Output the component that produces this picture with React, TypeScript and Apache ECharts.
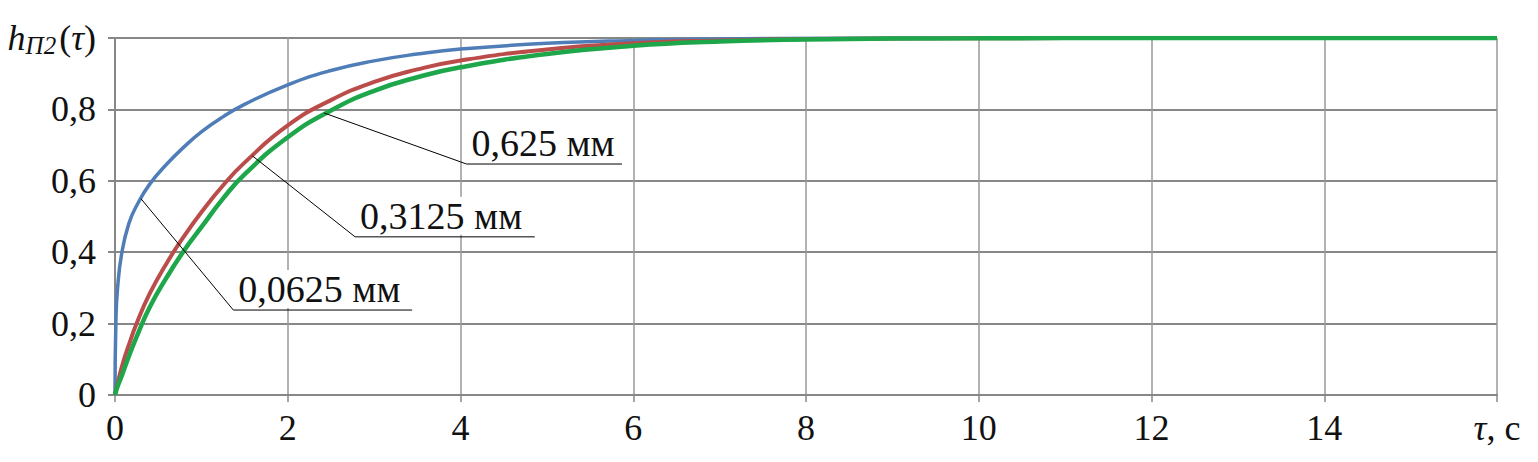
import React, { useEffect, useRef } from "react";
import * as echarts from "echarts";

// time, s
const times = [0, 0.01, 0.03, 0.08, 0.16, 0.25, 0.4, 0.6, 0.8, 1, 1.25, 1.5, 2, 2.5, 3, 3.5, 4, 5, 6, 7, 8, 10, 12, 14, 16];
// h_П2(τ) for layer 0,0625 мм (blue)
const h0625 = [0, 0.2, 0.3, 0.4, 0.48, 0.53, 0.59, 0.647, 0.695, 0.737, 0.779, 0.814, 0.869, 0.909, 0.936, 0.955, 0.969, 0.985, 0.993, 0.997, 0.999, 1, 1, 1, 1];
// h_П2(τ) for layer 0,3125 мм (red)
const h3125 = [0, 0.012, 0.032, 0.08, 0.14, 0.2, 0.283, 0.37, 0.445, 0.512, 0.587, 0.651, 0.755, 0.826, 0.877, 0.912, 0.937, 0.968, 0.985, 0.993, 0.997, 0.999, 1, 1, 1];
// h_П2(τ) for layer 0,625 мм (green)
const h625 = [0, 0.009, 0.024, 0.055, 0.108, 0.163, 0.245, 0.33, 0.405, 0.47, 0.55, 0.618, 0.722, 0.797, 0.852, 0.89, 0.918, 0.955, 0.978, 0.99, 0.996, 0.999, 1, 1, 1];

const xTicks = { min: 0, max: 16, step: 2 };
const yTicks = { min: 0, max: 1, step: 0.2 };

// leader annotations: label, [anchor, elbow, underline end] in data coords
const annLabels = ["0,625 мм", "0,3125 мм", "0,0625 мм"];
const annPoints: number[][][] = [
  [[2.42, 0.79], [4.07, 0.647], [5.87, 0.647]],
  [[1.59, 0.67], [2.78, 0.443], [4.86, 0.443]],
  [[0.3, 0.55], [1.37, 0.238], [3.44, 0.238]],
];

const FONT = "Liberation Serif, Times New Roman, serif";
const GRAY = "#878787";

export default function App() {
  const ref = useRef<HTMLDivElement>(null);
  useEffect(() => {
    if (!ref.current) return;
    const chart = echarts.init(ref.current, null, { renderer: "svg" });
    const mk = (arr: number[]) => times.map((t, i) => [t, arr[i]]);
    const curve = (name: string, arr: number[], color: string, width: number) => ({
      name,
      type: "line",
      data: mk(arr),
      showSymbol: false,
      symbol: "none",
      smooth: 0.5,
      lineStyle: { color, width },
      z: 3,
    });
    const leaders = annPoints.map((pts, i) => ({
      name: "leader" + i,
      type: "line",
      data: pts,
      showSymbol: false,
      symbol: "none",
      lineStyle: { color: "#000", width: 1 },
      z: 4,
    }));
    chart.setOption({
      animation: false,
      backgroundColor: "#fff",
      grid: { left: 115, right: 41, top: 38, bottom: 67 },
      xAxis: {
        type: "value",
        min: xTicks.min,
        max: xTicks.max,
        interval: xTicks.step,
        axisLine: { show: true, lineStyle: { color: GRAY, width: 2 } },
        axisTick: { show: true, inside: false, length: 7, lineStyle: { color: GRAY, width: 1.5 } },
        splitLine: { show: true, lineStyle: { color: "#999", width: 1.5 } },
        axisLabel: {
          margin: 15,
          fontFamily: FONT,
          fontSize: 36,
          color: "#111",
          formatter: (v: number) => (v === xTicks.max ? "{t|τ}{n|, с}" : String(v)),
          rich: {
            t: { fontFamily: FONT, fontSize: 36, fontStyle: "italic", color: "#111" },
            n: { fontFamily: FONT, fontSize: 36, color: "#111" },
          },
        },
      },
      yAxis: {
        type: "value",
        min: yTicks.min,
        max: yTicks.max,
        interval: yTicks.step,
        axisLine: { show: true, lineStyle: { color: GRAY, width: 2 } },
        axisTick: { show: true, inside: false, length: 7, lineStyle: { color: GRAY, width: 2 } },
        splitLine: { show: true, lineStyle: { color: GRAY, width: 2 } },
        axisLabel: {
          margin: 19,
          fontFamily: FONT,
          fontSize: 36,
          color: "#111",
          formatter: (v: number) =>
            Math.abs(v - yTicks.max) < 1e-9
              ? "{h|h}{s|П2}{p|(}{t|τ}{p|)}"
              : String(+v.toFixed(1)).replace(".", ","),
          rich: {
            h: { fontFamily: FONT, fontSize: 36, fontStyle: "italic", color: "#111", lineHeight: 40, verticalAlign: "middle" },
            s: { fontFamily: FONT, fontSize: 25, fontStyle: "italic", color: "#111", verticalAlign: "bottom", lineHeight: 40, padding: [0, 3, 0, 0] },
            p: { fontFamily: FONT, fontSize: 36, color: "#111", lineHeight: 40, verticalAlign: "middle" },
            t: { fontFamily: FONT, fontSize: 36, fontStyle: "italic", color: "#111", lineHeight: 40, verticalAlign: "middle" },
          },
        },
      },
      series: [
        curve("0,0625 мм", h0625, "#4F7DB8", 3.5),
        curve("0,3125 мм", h3125, "#BA4D4A", 4),
        curve("0,625 мм", h625, "#1DA64A", 4.5),
        ...leaders,
      ],
    });
    const texts = annPoints.map((pts, i) => {
      const p = chart.convertToPixel({ gridIndex: 0 }, pts[1]) as number[];
      return {
        type: "text",
        x: p[0] + 3,
        y: p[1] - 2,
        z: 10,
        style: {
          text: annLabels[i],
          fontFamily: FONT,
          fontSize: 38,
          fill: "#111",
          align: "left",
          verticalAlign: "bottom",
          backgroundColor: "#fff",
          padding: [0, 2, 0, 2],
        },
      };
    });
    chart.setOption({ graphic: texts });
    return () => chart.dispose();
  }, []);
  return (
    <div
      ref={ref}
      style={{ position: "absolute", left: 0, top: 0, width: 1538, height: 462 }}
    />
  );
}
